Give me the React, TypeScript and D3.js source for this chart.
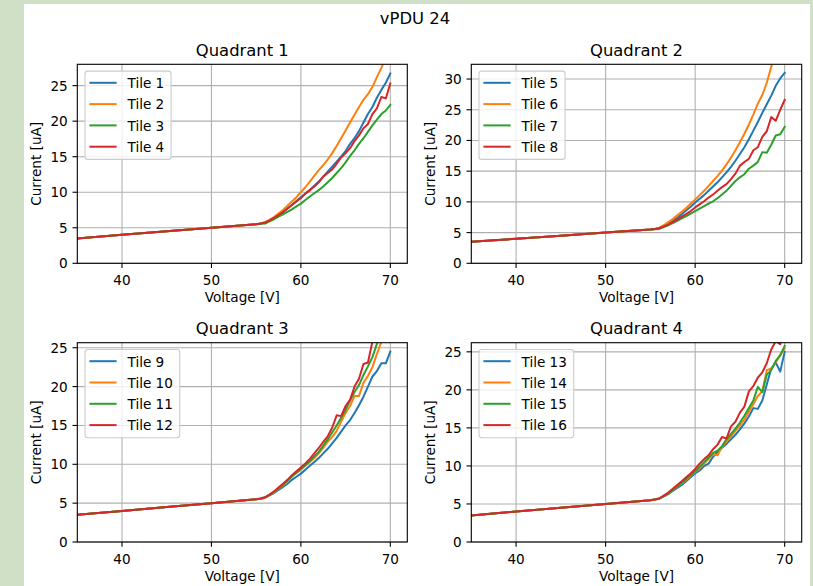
import React from 'react';
import * as d3 from 'd3';

// ---------- data ----------
const VOLTAGE = [35, 40, 45, 50, 55, 55.5, 56, 56.5, 57, 57.5, 58, 58.5, 59, 59.5, 60, 60.5, 61, 61.5, 62, 62.5, 63, 63.5, 64, 64.5, 65, 65.5, 66, 66.5, 67, 67.5, 68, 68.5, 69, 69.5, 70];

const TILE_1 = [3.5, 4.0, 4.5, 5.0, 5.5, 5.6, 5.75, 6.05, 6.4, 6.8, 7.2, 7.7, 8.2, 8.75, 9.3, 9.8, 10.3, 10.9, 11.5, 12.2, 12.9, 13.6, 14.3, 15.0, 15.8, 16.8, 17.6, 18.6, 19.8, 21.0, 22.0, 23.3, 24.4, 25.4, 26.7];
const TILE_2 = [3.5, 4.0, 4.5, 5.0, 5.5, 5.6, 5.8, 6.1, 6.5, 7.0, 7.5, 8.1, 8.7, 9.3, 10.0, 10.7, 11.5, 12.3, 13.1, 13.8, 14.6, 15.5, 16.5, 17.6, 18.7, 19.8, 20.9, 22.0, 23.0, 23.8, 24.8, 26.2, 27.5, 29.0, 30.5];
const TILE_3 = [3.5, 4.0, 4.5, 5.0, 5.5, 5.55, 5.6, 5.9, 6.2, 6.55, 6.9, 7.25, 7.6, 8.0, 8.4, 8.9, 9.4, 9.85, 10.3, 10.8, 11.4, 12.0, 12.7, 13.4, 14.2, 15.1, 15.9, 16.8, 17.6, 18.5, 19.4, 20.2, 21.0, 21.5, 22.3];
const TILE_4 = [3.5, 4.0, 4.5, 5.0, 5.5, 5.6, 5.75, 6.05, 6.4, 6.8, 7.2, 7.7, 8.2, 8.7, 9.2, 9.8, 10.3, 10.8, 11.4, 12.2, 12.7, 13.2, 14.0, 14.9, 15.5, 16.2, 17.2, 18.0, 19.0, 19.6, 21.0, 21.8, 23.4, 23.2, 25.3];

const TILE_5 = [3.5, 4.0, 4.5, 5.0, 5.5, 5.6, 5.75, 6.1, 6.5, 6.95, 7.4, 8.0, 8.6, 9.2, 9.9, 10.5, 11.1, 11.8, 12.5, 13.2, 14.0, 14.8, 15.7, 16.7, 17.8, 18.9, 20.2, 21.6, 23.0, 24.5, 25.9, 27.3, 28.9, 30.1, 31.0];
const TILE_6 = [3.5, 4.0, 4.5, 5.0, 5.5, 5.6, 5.8, 6.2, 6.7, 7.2, 7.8, 8.4, 9.0, 9.7, 10.4, 11.1, 11.8, 12.6, 13.4, 14.2, 15.1, 16.1, 17.2, 18.4, 19.7, 21.1, 22.6, 24.2, 26.0, 27.4, 29.4, 32.0, 34.3, 36.5, 39.0];
const TILE_7 = [3.5, 4.0, 4.5, 5.0, 5.5, 5.55, 5.6, 5.9, 6.2, 6.55, 6.9, 7.3, 7.7, 8.1, 8.5, 8.9, 9.3, 9.7, 10.1, 10.6, 11.2, 11.8, 12.6, 13.4, 14.0, 14.5, 15.4, 15.9, 16.5, 18.1, 18.0, 19.3, 20.8, 21.0, 22.2];
const TILE_8 = [3.5, 4.0, 4.5, 5.0, 5.5, 5.6, 5.7, 6.0, 6.3, 6.7, 7.1, 7.6, 8.0, 8.5, 9.1, 9.6, 10.1, 10.7, 11.2, 11.8, 12.4, 12.9, 13.7, 14.6, 15.9, 16.5, 17.0, 18.4, 18.9, 20.6, 21.5, 23.8, 23.2, 25.0, 26.6];

const TILE_9 = [3.5, 4.0, 4.5, 5.0, 5.5, 5.55, 5.7, 6.0, 6.3, 6.7, 7.1, 7.5, 8.0, 8.4, 8.8, 9.3, 9.8, 10.3, 10.8, 11.4, 12.0, 12.7, 13.4, 14.2, 15.0, 15.7, 16.6, 17.6, 18.7, 20.0, 21.3, 22.0, 23.0, 23.0, 24.5];
const TILE_10 = [3.5, 4.0, 4.5, 5.0, 5.5, 5.55, 5.7, 6.05, 6.4, 6.85, 7.3, 7.8, 8.4, 8.9, 9.3, 9.8, 10.3, 10.8, 11.4, 12.1, 12.9, 13.5, 14.3, 15.5, 16.6, 17.5, 18.8, 18.8, 20.5, 21.4, 22.5, 24.2, 25.8, 27.5, 29.0];
const TILE_11 = [3.5, 4.0, 4.5, 5.0, 5.5, 5.6, 5.75, 6.1, 6.5, 6.9, 7.4, 7.9, 8.5, 8.9, 9.4, 9.9, 10.4, 11.0, 11.6, 12.4, 13.2, 14.1, 15.0, 16.0, 17.0, 18.2, 19.3, 20.2, 21.5, 22.6, 23.8, 25.5, 26.8, 28.5, 30.0];
const TILE_12 = [3.5, 4.0, 4.5, 5.0, 5.5, 5.6, 5.75, 6.1, 6.5, 7.0, 7.5, 8.0, 8.6, 9.1, 9.6, 10.1, 10.7, 11.4, 12.1, 12.9, 13.6, 14.7, 16.3, 16.2, 17.5, 18.3, 20.0, 21.0, 22.9, 23.1, 25.8, 27.5, 29.5, 31.0, 33.0];

const TILE_13 = [3.5, 4.0, 4.5, 5.0, 5.5, 5.6, 5.7, 6.0, 6.3, 6.7, 7.1, 7.5, 8.0, 8.5, 9.0, 9.4, 10.0, 10.3, 11.2, 11.8, 12.4, 12.9, 13.5, 14.1, 14.8, 15.6, 16.5, 17.6, 17.5, 18.6, 20.7, 22.8, 23.6, 22.4, 25.0];
const TILE_14 = [3.5, 4.0, 4.5, 5.0, 5.5, 5.6, 5.7, 6.05, 6.4, 6.8, 7.3, 7.7, 8.2, 8.7, 9.2, 9.7, 10.3, 10.9, 11.5, 11.4, 12.5, 13.2, 13.9, 14.6, 15.3, 16.1, 17.1, 18.1, 19.2, 19.8, 22.6, 22.8, 23.6, 24.6, 25.5];
const TILE_15 = [3.5, 4.0, 4.5, 5.0, 5.5, 5.6, 5.7, 6.05, 6.4, 6.85, 7.3, 7.8, 8.3, 8.8, 9.3, 9.9, 10.5, 11.1, 11.7, 12.0, 12.6, 13.5, 14.2, 14.9, 15.7, 16.6, 17.6, 18.6, 20.4, 19.7, 22.0, 22.6, 23.8, 24.5, 25.8];
const TILE_16 = [3.5, 4.0, 4.5, 5.0, 5.5, 5.6, 5.75, 6.1, 6.5, 7.0, 7.5, 8.0, 8.5, 9.0, 9.6, 10.3, 10.9, 11.4, 12.2, 12.8, 13.8, 13.6, 15.2, 15.8, 17.0, 17.8, 19.8, 20.5, 21.6, 22.3, 23.5, 25.3, 26.4, 26.0, 28.0];

const SUPTITLE = 'vPDU 24';
const TITLES = ['Quadrant 1', 'Quadrant 2', 'Quadrant 3', 'Quadrant 4'];
const TILE_NAMES = [
  ['Tile 1', 'Tile 2', 'Tile 3', 'Tile 4'],
  ['Tile 5', 'Tile 6', 'Tile 7', 'Tile 8'],
  ['Tile 9', 'Tile 10', 'Tile 11', 'Tile 12'],
  ['Tile 13', 'Tile 14', 'Tile 15', 'Tile 16'],
];
const TILE_SERIES = [
  [TILE_1, TILE_2, TILE_3, TILE_4],
  [TILE_5, TILE_6, TILE_7, TILE_8],
  [TILE_9, TILE_10, TILE_11, TILE_12],
  [TILE_13, TILE_14, TILE_15, TILE_16],
];
const Y_MAX = [28, 32.4, 25.65, 26.2];
const X_DOMAIN = [35, 71.9];
const X_TICKS = [40, 50, 60, 70];
const Y_TICKS = [
  [0, 5, 10, 15, 20, 25],
  [0, 5, 10, 15, 20, 25, 30],
  [0, 5, 10, 15, 20, 25],
  [0, 5, 10, 15, 20, 25],
];
const X_LABEL = 'Voltage [V]';
const Y_LABEL = 'Current [uA]';

// ---------- style / layout ----------
const COLORS = ['#1f77b4', '#ff7f0e', '#2ca02c', '#d62728'];
const FONT = '"DejaVu Sans", sans-serif';
const TICK_FS = 13.6;
const TITLE_FS = 16.4;
const BOXES = [
  { l: 77.3, r: 407.3, t: 64.3, b: 263.3 },
  { l: 471.3, r: 801.7, t: 64.3, b: 263.3 },
  { l: 77.3, r: 407.3, t: 342.7, b: 542 },
  { l: 471.3, r: 801.7, t: 342.7, b: 542 },
];

function textWidth(s: string, fs: number): number {
  try {
    const ctx = document.createElement('canvas').getContext('2d');
    if (ctx) {
      ctx.font = `${fs}px "DejaVu Sans"`;
      return ctx.measureText(s).width;
    }
  } catch (e) {}
  return s.length * fs * 0.6;
}

function Panel({ idx }: { idx: number }) {
  const box = BOXES[idx];
  const x = d3.scaleLinear().domain(X_DOMAIN).range([box.l, box.r]);
  const y = d3.scaleLinear().domain([0, Y_MAX[idx]]).range([box.b, box.t]);
  const line = d3
    .line<number>()
    .x((_, i) => x(VOLTAGE[i]))
    .y((d) => y(d));
  const clipId = `clip-${idx}`;
  const names = TILE_NAMES[idx];
  const maxW = Math.max(...names.map((n) => textWidth(n, TICK_FS)));
  const lx = box.l + 7.7;
  const ly = box.t + 6.8;
  const lw = 4.4 + 27.2 + 10.9 + maxW + 6.8;
  const lh = 88.3;
  return (
    <g>
      <defs>
        <clipPath id={clipId}>
          <rect x={box.l} y={box.t} width={box.r - box.l} height={box.b - box.t} />
        </clipPath>
      </defs>
      {X_TICKS.map((t) => (
        <line key={'gx' + t} x1={x(t)} x2={x(t)} y1={box.t} y2={box.b} stroke="#b0b0b0" strokeWidth={1.1} />
      ))}
      {Y_TICKS[idx].map((t) => (
        <line key={'gy' + t} x1={box.l} x2={box.r} y1={y(t)} y2={y(t)} stroke="#b0b0b0" strokeWidth={1.1} />
      ))}
      <g clipPath={`url(#${clipId})`}>
        {TILE_SERIES[idx].map((s, i) => (
          <path key={i} d={line(s) || ''} fill="none" stroke={COLORS[i]} strokeWidth={2} strokeLinejoin="round" strokeLinecap="square" />
        ))}
      </g>
      <rect x={box.l} y={box.t} width={box.r - box.l} height={box.b - box.t} fill="none" stroke="#000" strokeWidth={1.1} />
      {X_TICKS.map((t) => (
        <g key={'xt' + t}>
          <line x1={x(t)} x2={x(t)} y1={box.b} y2={box.b + 4.8} stroke="#000" strokeWidth={1.1} />
          <text x={x(t)} y={box.b + 21.7} textAnchor="middle" fontSize={TICK_FS} fontFamily={FONT} fill="#000">
            {t}
          </text>
        </g>
      ))}
      {Y_TICKS[idx].map((t) => (
        <g key={'yt' + t}>
          <line x1={box.l - 4.8} x2={box.l} y1={y(t)} y2={y(t)} stroke="#000" strokeWidth={1.1} />
          <text x={box.l - 9.6} y={y(t) + 5} textAnchor="end" fontSize={TICK_FS} fontFamily={FONT} fill="#000">
            {t}
          </text>
        </g>
      ))}
      <text x={(box.l + box.r) / 2} y={box.b + 38.5} textAnchor="middle" fontSize={TICK_FS} fontFamily={FONT} fill="#000">
        {X_LABEL}
      </text>
      <text
        transform={`translate(${box.l - 36},${(box.t + box.b) / 2}) rotate(-90)`}
        textAnchor="middle"
        fontSize={TICK_FS}
        fontFamily={FONT}
        fill="#000"
      >
        {Y_LABEL}
      </text>
      <text x={(box.l + box.r) / 2} y={box.t - 8.3} textAnchor="middle" fontSize={TITLE_FS} fontFamily={FONT} fill="#000">
        {TITLES[idx]}
      </text>
      <rect x={lx} y={ly} width={lw} height={lh} rx={2.7} ry={2.7} fill="#fff" fillOpacity={0.8} stroke="#cccccc" strokeWidth={1.1} />
      {names.map((n, i) => (
        <g key={n}>
          <line x1={lx + 4.4} x2={lx + 4.4 + 27.2} y1={ly + 11.7 + i * 21.3} y2={ly + 11.7 + i * 21.3} stroke={COLORS[i]} strokeWidth={2} />
          <text x={lx + 4.4 + 27.2 + 10.9} y={ly + 17 + i * 21.3} fontSize={TICK_FS} fontFamily={FONT} fill="#000">
            {n}
          </text>
        </g>
      ))}
    </g>
  );
}

export default function App() {
  return (
    <svg width={813} height={586} style={{ position: 'absolute', left: 0, top: 0 }}>
      <rect x={0} y={0} width={813} height={586} fill="#cfe0c7" />
      <rect x={24} y={4} width={786} height={590} fill="#ffffff" />
      <text x={415} y={23.5} textAnchor="middle" fontSize={TITLE_FS} fontFamily={FONT} fill="#000">
        {SUPTITLE}
      </text>
      {[0, 1, 2, 3].map((i) => (
        <Panel key={i} idx={i} />
      ))}
    </svg>
  );
}
